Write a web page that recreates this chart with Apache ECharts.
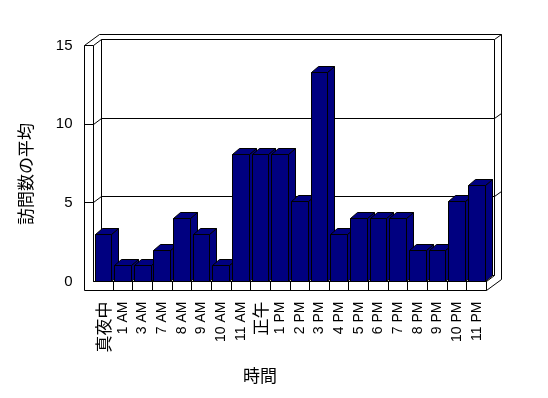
<!DOCTYPE html>
<html lang="ja">
<head>
    <meta charset="UTF-8">
    <title>訪問数の平均</title>
    <script src="https://cdn.jsdelivr.net/npm/echarts@6/dist/echarts.min.js"></script>
</head>
<body style="margin:0;background:#fff">
<div id="main" style="width: 548px;height: 398px;"></div>
<script>
    // data
    var hours = ['真夜中', '1 AM', '3 AM', '7 AM', '8 AM', '9 AM', '10 AM', '11 AM', '正午',
        '1 PM', '2 PM', '3 PM', '4 PM', '5 PM', '6 PM', '7 PM', '8 PM', '9 PM', '10 PM', '11 PM']
    var visits = [3, 1, 1, 2, 4, 3, 1, 8.1, 8.1, 8.1, 5.1, 13.3, 3, 4, 4, 4, 2, 2, 5.1, 6.1]
    var yTicks = [0, 5, 10, 15]

    var FONT = '"Liberation Sans", Arial, "Noto Sans CJK JP", sans-serif'
    var NAVY = '#000080'
    var D = [8, -6]      // depth front -> back wall
    var T = [7, -5]      // wall thickness
    var WALL = 9         // left wall slab
    var FLOOR = 9        // floor slab
    var BAR_D = [7, -6]  // bar depth

    function snap(v) { return Math.round(v - 0.5) + 0.5 }
    function line(points) {
        return {type: 'polyline', shape: {points: points}, style: {fill: 'none', stroke: '#000', lineWidth: 1}}
    }

    var myChart = echarts.init(document.getElementById('main'))

    var option = {
        animation: false,
        backgroundColor: '#fff',
        grid: {left: 93.5, right: 61.5, top: 45.5, bottom: 116.5},
        xAxis: {
            type: 'category',
            data: hours,
            axisLine: {show: true, lineStyle: {color: '#000', width: 1}},
            axisTick: {show: false},
            axisLabel: {
                interval: 0,
                rotate: 90,
                margin: 20,
                color: '#000',
                fontFamily: FONT,
                fontSize: 14,
                formatter: function (v) {
                    return /[^\x00-\x7f]/.test(v) ? '{j|' + v + '}' : v
                },
                rich: {j: {fontSize: 17, fontFamily: '"Noto Sans CJK JP", sans-serif', color: '#000'}}
            }
        },
        yAxis: {
            type: 'value',
            min: yTicks[0],
            max: yTicks[yTicks.length - 1],
            interval: 5,
            axisLine: {show: false},
            axisTick: {show: false},
            splitLine: {show: false},
            axisLabel: {margin: 21, color: '#000', fontFamily: FONT, fontSize: 15}
        },
        graphic: [
            {
                type: 'text', x: 25.5, y: 174, rotation: Math.PI / 2,
                style: {text: '訪問数の平均', font: '17px "Noto Sans CJK JP", sans-serif',
                    fill: '#000', align: 'center', verticalAlign: 'middle'}
            },
            {
                type: 'text', x: 260, y: 376,
                style: {text: '時間', font: '17px "Noto Sans CJK JP", sans-serif',
                    fill: '#000', align: 'center', verticalAlign: 'middle'}
            }
        ],
        series: [
            {
                // walls, floor and gridlines of the 3D box
                type: 'custom',
                silent: true,
                z: 1,
                data: [[0, 0]],
                renderItem: function (params, api) {
                    var cs = params.coordSys
                    var x0 = cs.x, x1 = cs.x + cs.width, yt = cs.y, yb = cs.y + cs.height
                    var kids = [
                        line([[x0 + D[0], yt + D[1]], [x1 + D[0], yt + D[1]], [x1 + D[0], yb + D[1]], [x0 + D[0], yb + D[1]], [x0 + D[0], yt + D[1]]]),
                        line([[x0 - WALL + D[0] + T[0], yt + D[1] + T[1]], [x1 + D[0] + T[0], yt + D[1] + T[1]],
                            [x1 + D[0] + T[0], yb + FLOOR + D[1] + T[1]]]),
                        line([[x1 + D[0], yt + D[1]], [x1 + D[0] + T[0], yt + D[1] + T[1]]]),
                        line([[x0 - WALL + D[0] + T[0], yt + D[1] + T[1]], [x0 - WALL, yt], [x0 - WALL, yb + FLOOR], [x1, yb + FLOOR]]),
                        line([[x0 - WALL, yt], [x0, yt], [x0 + D[0], yt + D[1]]]),
                        line([[x0, yt], [x0, yb]]),
                        line([[x1 + D[0], yb + D[1]], [x1, yb], [x1, yb + FLOOR], [x1 + D[0] + T[0], yb + FLOOR + D[1] + T[1]]])
                    ]
                    // category dividers on the floor front
                    var band = api.size([1, 0])[0]
                    for (var i = 1; i < hours.length; i++) {
                        var xt = snap(x0 + band * i)
                        kids.push(line([[xt, yb], [xt, yb + FLOOR]]))
                    }
                    yTicks.slice(1, -1).forEach(function (v) {
                        var yf = snap(api.coord([0, v])[1])
                        kids.push(line([[x0 - WALL, yf], [x0, yf], [x0 + D[0], yf + D[1]], [x1 + D[0], yf + D[1]], [x1 + D[0] + T[0], yf + D[1] + T[1]]]))
                    })
                    return {type: 'group', children: kids}
                }
            },
            {
                name: '訪問数の平均',
                type: 'custom',
                z: 3,
                encode: {x: 0, y: 1},
                data: visits.map(function (v, i) { return [i, v] }),
                renderItem: function (params, api) {
                    var base = api.coord([api.value(0), 0])
                    var top = api.coord([api.value(0), api.value(1)])
                    var band = api.size([1, 0])[0]
                    var l = snap(base[0] - band / 2 + 1.5)
                    var r = snap(base[0] - band / 2 + 1.5 + band * 0.85)
                    var t = snap(top[1]), b = snap(base[1])
                    var st = {fill: NAVY, stroke: '#000', lineWidth: 1}
                    return {
                        type: 'group',
                        children: [
                            {type: 'polygon', shape: {points: [[r, t], [r + BAR_D[0], t + BAR_D[1]], [r + BAR_D[0], b + BAR_D[1]], [r, b]]}, style: st},
                            {type: 'polygon', shape: {points: [[l, t], [r, t], [r + BAR_D[0], t + BAR_D[1]], [l + BAR_D[0], t + BAR_D[1]]]}, style: st},
                            {type: 'rect', shape: {x: l, y: t, width: r - l, height: b - t}, style: st}
                        ]
                    }
                }
            }
        ]
    }
    myChart.setOption(option)
</script>
</body>
</html>
